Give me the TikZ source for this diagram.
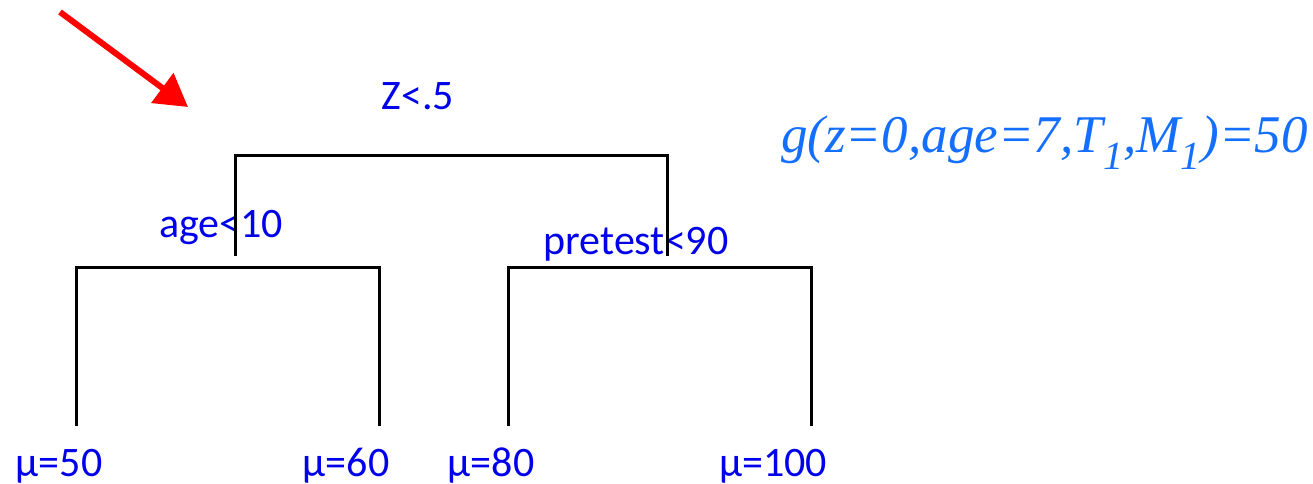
\documentclass[tikz,border=0pt]{standalone}
\usepackage{fontspec}
\setmainfont{Liberation Serif}
\newfontfamily\labelfont{Carlito}
\usetikzlibrary{arrows.meta}
\definecolor{lblblue}{RGB}{0,0,235}
\definecolor{gblue}{RGB}{20,110,255}
\tikzset{
  treeline/.style={line width=3pt, black},
  lbl/.style={text=lblblue, font=\labelfont\fontsize{42}{50}\selectfont, inner sep=0pt, anchor=base},
  gtext/.style={text=gblue, font=\itshape\fontsize{53}{60}\selectfont, inner sep=0pt, anchor=base west},
  pointer/.style={draw=red, line width=6pt, -{Triangle[length=32pt,width=36pt]}}
}
\begin{document}
\begin{tikzpicture}[x=1pt,y=-1pt]
\useasboundingbox (0,0) rectangle (1313,484);
% red arrow
\coordinate (arrS) at (60,12);
\coordinate (arrE) at (188,107);
\draw[pointer] (arrS) -- (arrE);
% labels
\node[lbl] (root) at (418,110) {Z<.5};
\node[lbl] (agel) at (221,237) {age<10};
\node[lbl] (pre) at (636,254) {pretest<90};
\node[lbl] (l1) at (59,476) {μ=50};
\node[lbl] (l2) at (346,476) {μ=60};
\node[lbl] (l3) at (491,476) {μ=80};
\node[lbl] (l4) at (773,476) {μ=100};
\node[gtext] (g) at (781,152) {g(z=0,age=7,T\textsubscript{\fontsize{40}{40}\selectfont 1},M\textsubscript{\fontsize{40}{40}\selectfont 1})=50};
% tree coordinates
\coordinate (rL) at (235,155);
\coordinate (rR) at (667,155);
\coordinate (rLb) at (235,256);
\coordinate (rRb) at (667,256);
\coordinate (aL) at (76,267);
\coordinate (aR) at (379,267);
\coordinate (aLb) at (76,426);
\coordinate (aRb) at (379,426);
\coordinate (pL) at (508,267);
\coordinate (pR) at (811,267);
\coordinate (pLb) at (508,426);
\coordinate (pRb) at (811,426);
\draw[treeline] (rLb) -- (rL) -- (rR) -- (rRb);
\draw[treeline] (aLb) -- (aL) -- (aR) -- (aRb);
\draw[treeline] (pLb) -- (pL) -- (pR) -- (pRb);
\end{tikzpicture}
\end{document}
